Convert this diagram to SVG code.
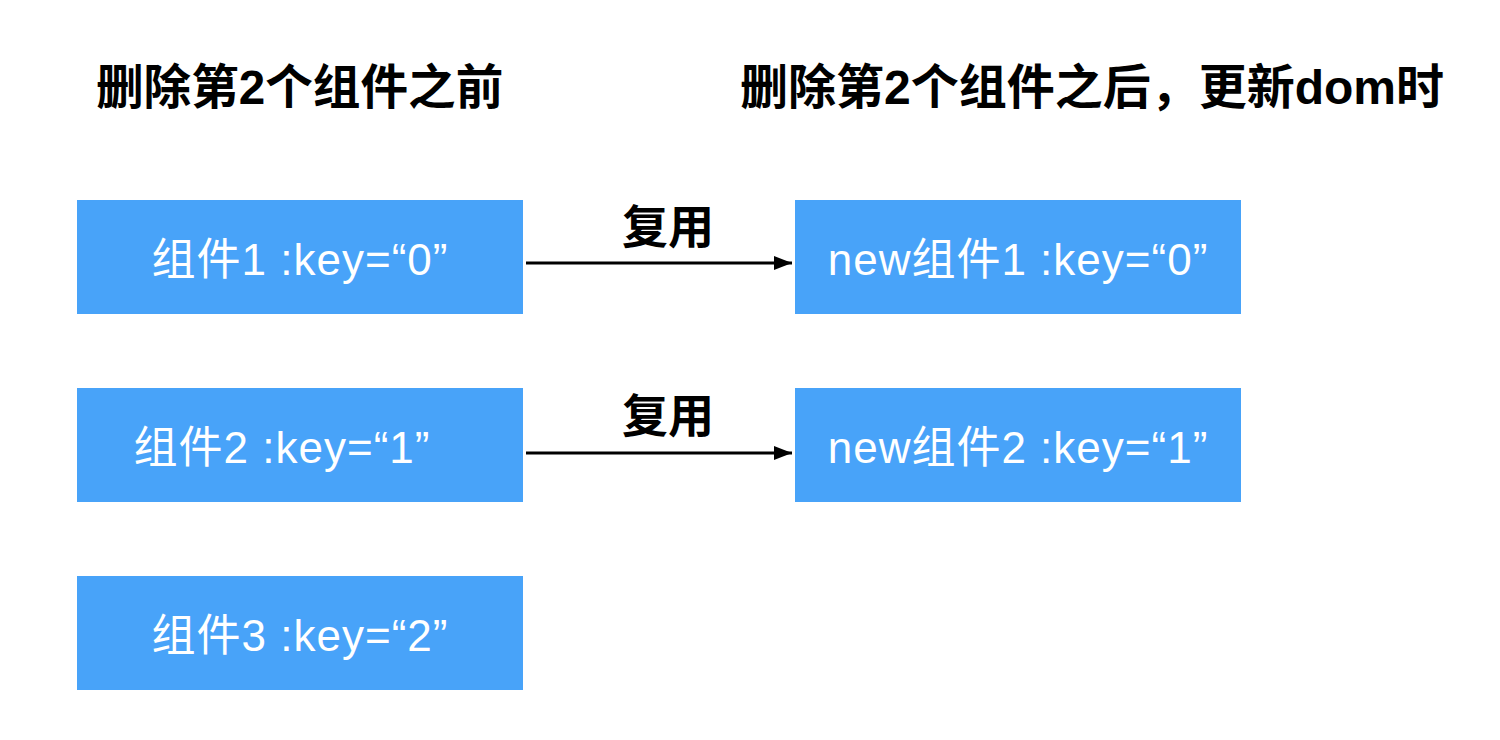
<svg xmlns="http://www.w3.org/2000/svg" width="1500" height="740" viewBox="0 0 1500 740">
<style>
.box{fill:#48A3F9}
.bt{font-family:"Liberation Sans","Noto Sans CJK SC",sans-serif;font-size:44px;letter-spacing:1px;fill:#fff;text-anchor:middle}
.title{font-family:"Liberation Sans","Noto Sans CJK SC",sans-serif;font-size:47.6px;font-weight:bold;fill:#000}
.lbl{font-family:"Liberation Sans","Noto Sans CJK SC",sans-serif;font-size:46px;font-weight:bold;fill:#000;text-anchor:middle}
.conn{stroke:#000;stroke-width:3;fill:none;marker-end:url(#ah)}
</style>
<defs>
<marker id="ah" markerWidth="18" markerHeight="14" refX="18" refY="7" orient="auto" markerUnits="userSpaceOnUse">
<path d="M0,0 L18,7 L0,14 Z" fill="#000"/>
</marker>
</defs>
<rect width="1500" height="740" fill="#fff"/>
<g id="title-left"><text class="title" x="96" y="104">删除第2个组件之前</text></g>
<g id="title-right"><text class="title" x="740" y="104" style="font-size:48px">删除第2个组件之后，更新dom时</text></g>
<g id="n1"><rect class="box" x="77" y="200" width="446" height="114"/><text class="bt" x="300" y="275">组件1 :key=“0”</text></g>
<g id="n2"><rect class="box" x="77" y="388" width="446" height="114"/><text class="bt" x="282" y="463">组件2 :key=“1”</text></g>
<g id="n3"><rect class="box" x="77" y="576" width="446" height="114"/><text class="bt" x="300" y="651">组件3 :key=“2”</text></g>
<g id="n4"><rect class="box" x="795" y="200" width="446" height="114"/><text class="bt" x="1018" y="275">new组件1 :key=“0”</text></g>
<g id="n5"><rect class="box" x="795" y="388" width="446" height="114"/><text class="bt" x="1018" y="463">new组件2 :key=“1”</text></g>
<g id="connectors">
<line class="conn" x1="526" y1="263" x2="792" y2="263"/>
<text class="lbl" x="668" y="243">复用</text>
<line class="conn" x1="526" y1="453" x2="792" y2="453"/>
<text class="lbl" x="668" y="432">复用</text>
</g>
</svg>
